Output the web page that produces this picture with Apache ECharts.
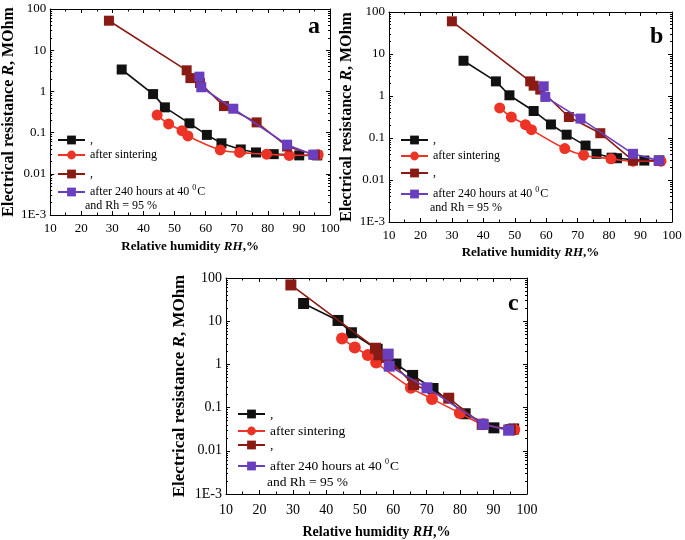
<!DOCTYPE html>
<html><head><meta charset="utf-8">
<script src="https://cdn.jsdelivr.net/npm/echarts@6/dist/echarts.min.js"></script>
<style>html,body{margin:0;padding:0;background:#fff}#c{width:685px;height:540px}</style>
</head><body><div id="c"></div>
<script>
// ---------- data (RH %, resistance MOhm) ----------
const xTicks = [10,20,30,40,50,60,70,80,90,100];
const yTickLabels = ['1E-3','0.01','0.1','1','10','100'];
const legendLabels = [',', 'after sintering', ',', 'after 240 hours at 40 {sup|0}C'];
const legendSecondLine = 'and Rh = 95 %';

// panel a
const aBlack  = [[33,3.4],[43.1,0.86],[46.9,0.41],[54.8,0.168],[60.4,0.088],[65.1,0.055],[71.3,0.039],[76.2,0.033],[81.9,0.030],[90.1,0.028],[95.9,0.028]];
const aRed    = [[44.4,0.267],[48.1,0.162],[52.4,0.111],[54.3,0.083],[64.7,0.038],[70.9,0.033],[79.6,0.030],[86.9,0.028],[96.2,0.029]];
const aDark   = [[28.9,52],[53.9,3.25],[55.1,2.1],[58.2,1.6],[65.9,0.44],[76.4,0.177],[86.2,0.046],[95.1,0.029]];
const aPurple = [[58.0,2.28],[58.6,1.26],[68.9,0.38],[86.2,0.051],[94.6,0.029]];

// panel b
const bBlack  = [[33.7,6.9],[44.0,2.23],[48.3,1.04],[56.0,0.44],[61.5,0.21],[66.5,0.12],[72.5,0.066],[76.0,0.042],[80.8,0.034],[82.5,0.033],[91.2,0.029],[96,0.029]];
const bRed    = [[45.2,0.52],[48.9,0.316],[53.4,0.207],[55.3,0.158],[65.9,0.056],[71.9,0.039],[80.6,0.032],[87.6,0.028],[96.5,0.028]];
const bDark   = [[30.0,60],[54.9,2.23],[56.0,1.76],[58.1,1.42],[67.2,0.316],[77.2,0.13],[87.6,0.029],[95.8,0.029]];
const bPurple = [[59.2,1.7],[59.7,0.95],[70.9,0.29],[87.6,0.042],[95.8,0.029]];

// panel c
const cBlack  = [[33.2,25.7],[43.5,10.4],[47.5,5.4],[55.2,2.24],[60.8,1.02],[65.8,0.556],[71.9,0.277],[81.5,0.072],[90.1,0.034],[96,0.032]];
const cRed    = [[44.7,4.0],[48.5,2.45],[52.4,1.64],[54.9,1.1],[65.3,0.287],[71.6,0.159],[79.9,0.075],[86.9,0.041],[96.2,0.031]];
const cDark   = [[29.4,69],[54.7,2.37],[55.7,1.67],[58.0,1.45],[66.1,0.34],[76.6,0.165],[86.6,0.041],[95.0,0.031]];
const cPurple = [[58.5,1.73],[58.8,0.91],[70.1,0.287],[86.9,0.041],[94.5,0.030]];

const panels = [
  {tag:'a', black:aBlack, red:aRed, dark:aDark, purple:aPurple},
  {tag:'b', black:bBlack, red:bRed, dark:bDark, purple:bPurple},
  {tag:'c', black:cBlack, red:cRed, dark:cDark, purple:cPurple}
];

// log-axis minor tick positions (2..9 within each decade)
const logMinor = [];
for (let d=-3; d<2; d++) for (let m=2; m<10; m++) logMinor.push(+(m*Math.pow(10,d)).toPrecision(3));

// ---------- layout / style ----------
const SERIF = '"Liberation Serif","DejaVu Serif",serif';
const layout = [
  {left:49, top:9,  width:281, height:206, nameGap:33, xNameGap:12, fs:13, lfs:12, tfs:14, yfs:16,
   legX:57, rows:[140,155,174,191], line2:[85,207], lab:{left:303, top:10}, sym:10},
  {left:389,top:12, width:283, height:210, nameGap:34, xNameGap:11, fs:13, lfs:12, tfs:14, yfs:16,
   legX:400, rows:[140,156,173,193], line2:[430,209], lab:{left:645, top:20}, sym:10},
  {left:226,top:278,width:301, height:221, nameGap:38, xNameGap:17, fs:14, lfs:13.5, tfs:14, yfs:17,
   legX:237, rows:[414,431,445,465], line2:[267,482], lab:{left:503, top:287}, sym:11}
];
const COLORS = {black:'#111111', red:'#ec3325', dark:'#8a1b14', purple:'#6a3fbf'};
const seriesNames = [',', 'after sintering', ',\u200b', 'after 240 hours at 40 \u00b0C and Rh = 95 %'];

const grid=[], xAxis=[], yAxis=[], series=[], legend=[], title=[], graphic=[];
panels.forEach((p,i)=>{
  const L = layout[i];
  grid.push({left:L.left, top:L.top, width:L.width, height:L.height, containLabel:false});
  const axLine = {show:true, lineStyle:{color:'#000', width:1}};
  const tick = {show:true, inside:true, length:4, lineStyle:{color:'#000'}};
  xAxis.push({gridIndex:i, type:'value', min:10, max:100, interval:10, position:'bottom',
    axisLine:axLine, axisTick:tick,
    minorTick:{show:true, splitNumber:2, length:2.5, lineStyle:{color:'#000'}},
    splitLine:{show:false},
    axisLabel:{color:'#000', fontFamily:SERIF, fontSize:L.fs, margin:L.fs===14?9:7, formatter:v=>xTicks.includes(v)?String(v):''},
    name:'Relative humidity {i|RH},%', nameLocation:'middle', nameGap:L.xNameGap+L.fs,
    nameTextStyle:{fontFamily:SERIF, fontWeight:'bold', fontSize:L.tfs-1+(i===2?1:0), color:'#000',
      rich:{i:{fontFamily:SERIF, fontWeight:'bold', fontStyle:'italic', fontSize:L.tfs-1+(i===2?1:0), color:'#000'}}}
  });
  xAxis.push({gridIndex:i, type:'value', min:10, max:100, interval:10, position:'top',
    axisLine:axLine, axisTick:tick,
    minorTick:{show:true, splitNumber:2, length:2.5, lineStyle:{color:'#000'}},
    splitLine:{show:false}, axisLabel:{show:false}});
  const base = yAxis.length;
  yAxis.push({gridIndex:i, type:'log', logBase:10, min:0.001, max:100, position:'left',
    axisLine:axLine, axisTick:tick, splitLine:{show:false},
    axisLabel:{color:'#000', fontFamily:SERIF, fontSize:L.fs, margin:4,
      formatter:v=>{const k=Math.round(Math.log10(v))+3; return yTickLabels[k]||'';}},
    name:'Electrical resistance {i|R}, MOhm', nameLocation:'middle', nameGap:L.nameGap, nameRotate:90,
    nameTextStyle:{fontFamily:SERIF, fontWeight:'bold', fontSize:L.yfs, color:'#000',
      rich:{i:{fontFamily:SERIF, fontWeight:'bold', fontStyle:'italic', fontSize:L.yfs, color:'#000'}}}
  });
  yAxis.push({gridIndex:i, type:'log', logBase:10, min:0.001, max:100, position:'right',
    axisLine:axLine, axisTick:tick, splitLine:{show:false}, axisLabel:{show:false}});
  ['left','right'].forEach(pos=>{
    yAxis.push({gridIndex:i, type:'log', logBase:10, min:0.001, max:100, position:pos, offset:0,
      axisLine:{show:false}, splitLine:{show:false}, axisLabel:{show:false},
      axisTick:{show:true, inside:true, length:2, customValues:logMinor, lineStyle:{color:'#000'}}});
  });
  const defs = [
    {key:'black', sym:'rect', smooth:false},
    {key:'red', sym:'circle', smooth:0.35},
    {key:'dark', sym:'rect', smooth:false},
    {key:'purple', sym:'rect', smooth:false}
  ];
  defs.forEach((d,k)=>{
    series.push({type:'line', name:seriesNames[k], xAxisIndex:2*i, yAxisIndex:base,
      data:p[d.key], symbol:d.sym, symbolSize:d.sym==='circle'?L.sym+1:L.sym, smooth:d.smooth,
      showAllSymbol:true, z:2+k,
      lineStyle:{color:COLORS[d.key], width:1.6},
      itemStyle:{color:COLORS[d.key], borderWidth:0},
      emphasis:{disabled:true}, animation:false});
    legend.push({orient:'vertical', left:L.legX, top:L.rows[k]-7, itemWidth:27, itemHeight:11, itemGap:0,
      data:[seriesNames[k]], selectedMode:false, padding:0,
      formatter:()=>legendLabels[k],
      textStyle:{fontFamily:SERIF, fontSize:L.lfs, color:'#000', lineHeight:14,
        rich:{sup:{fontFamily:SERIF, fontSize:8, color:'#000', padding:[0,1,8,0]}}}
    });
  });
  graphic.push({type:'text', left:L.line2[0], top:L.line2[1]-7,
    style:{text:legendSecondLine, font:L.lfs+'px '+SERIF, fill:'#000'}});
  title.push({text:p.tag, left:L.lab.left, top:L.lab.top,
    textStyle:{fontFamily:SERIF, fontWeight:'bold', fontSize:24, color:'#000'}});
});

const chart = echarts.init(document.getElementById('c'), null, {renderer:'canvas'});
chart.setOption({animation:false, backgroundColor:'#fff', title, grid, xAxis, yAxis, legend, graphic, series});
</script></body></html>
